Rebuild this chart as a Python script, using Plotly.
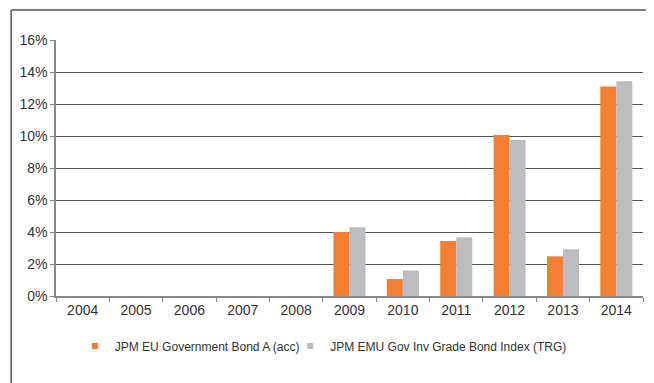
import plotly.graph_objects as go

# Dados
anos = ['2004', '2005', '2006', '2007', '2008', '2009', '2010', '2011', '2012', '2013', '2014']
fundo = [None, None, None, None, None, 4.0, 1.06, 3.44, 10.06, 2.48, 13.1]
indice = [None, None, None, None, None, 4.3, 1.6, 3.67, 9.75, 2.92, 13.42]
nome_fundo = 'JPM EU Government Bond A (acc)'
nome_indice = 'JPM EMU Gov Inv Grade Bond Index (TRG)'
ticks_y = [0, 2, 4, 6, 8, 10, 12, 14, 16]

cor_fundo = '#F47F30'
cor_indice = '#BCBDC0'
fonte = "Liberation Sans, Arial, sans-serif"

fig = go.Figure()
fig.add_trace(go.Bar(x=anos, y=fundo, name=nome_fundo, marker_color=cor_fundo,
                     marker_line_width=0, showlegend=False))
fig.add_trace(go.Bar(x=anos, y=indice, name=nome_indice, marker_color=cor_indice,
                     marker_line_width=0, showlegend=False))

# Entradas de legenda com quadradinhos pequenos
fig.add_trace(go.Scatter(x=[None], y=[None], mode='markers', name=nome_fundo,
                         marker=dict(symbol='square', size=6, color=cor_fundo),
                         legend='legend'))
fig.add_trace(go.Scatter(x=[None], y=[None], mode='markers', name=nome_indice,
                         marker=dict(symbol='square', size=6, color=cor_indice),
                         legend='legend2'))

# Moldura (só topo e esquerda visíveis)
fig.add_shape(type='line', xref='paper', yref='paper', x0=-0.0764, x1=1.1,
              y0=1.117, y1=1.117, line=dict(color='#555555', width=1.5))
fig.add_shape(type='line', xref='paper', yref='paper', x0=-0.0764, x1=-0.0764,
              y0=1.117, y1=-0.4, line=dict(color='#555555', width=1.5))

legenda_base = dict(
    orientation='h',
    yanchor='middle',
    y=-0.195,
    xanchor='left',
    font=dict(size=12, color='#333333'),
    itemwidth=30,
    bgcolor='rgba(0,0,0,0)'
)

fig.update_layout(
    width=646,
    height=375,
    margin=dict(l=46, r=11, t=32, b=87),
    barmode='group',
    bargap=0.4,
    bargroupgap=0,
    paper_bgcolor='white',
    plot_bgcolor='white',
    font=dict(family=fonte, size=14, color='#333333'),
    showlegend=True,
    legend=dict(legenda_base, x=0.032),
    legend2=dict(legenda_base, x=0.399),
    xaxis=dict(
        type='category',
        showgrid=False,
        showline=True,
        linecolor='#888888',
        linewidth=1.5,
        ticks='outside',
        tickson='boundaries',
        ticklen=4,
        tickcolor='#888888'
    ),
    yaxis=dict(
        range=[0, 16],
        tickmode='array',
        tickvals=ticks_y,
        ticktext=[f'{v}%' for v in ticks_y],
        showgrid=True,
        gridcolor='#555555',
        gridwidth=1.3,
        showline=True,
        linecolor='#888888',
        linewidth=1.5,
        ticks='outside',
        ticklen=4,
        tickcolor='#888888',
        zeroline=False
    )
)

fig.write_html("out.html")
